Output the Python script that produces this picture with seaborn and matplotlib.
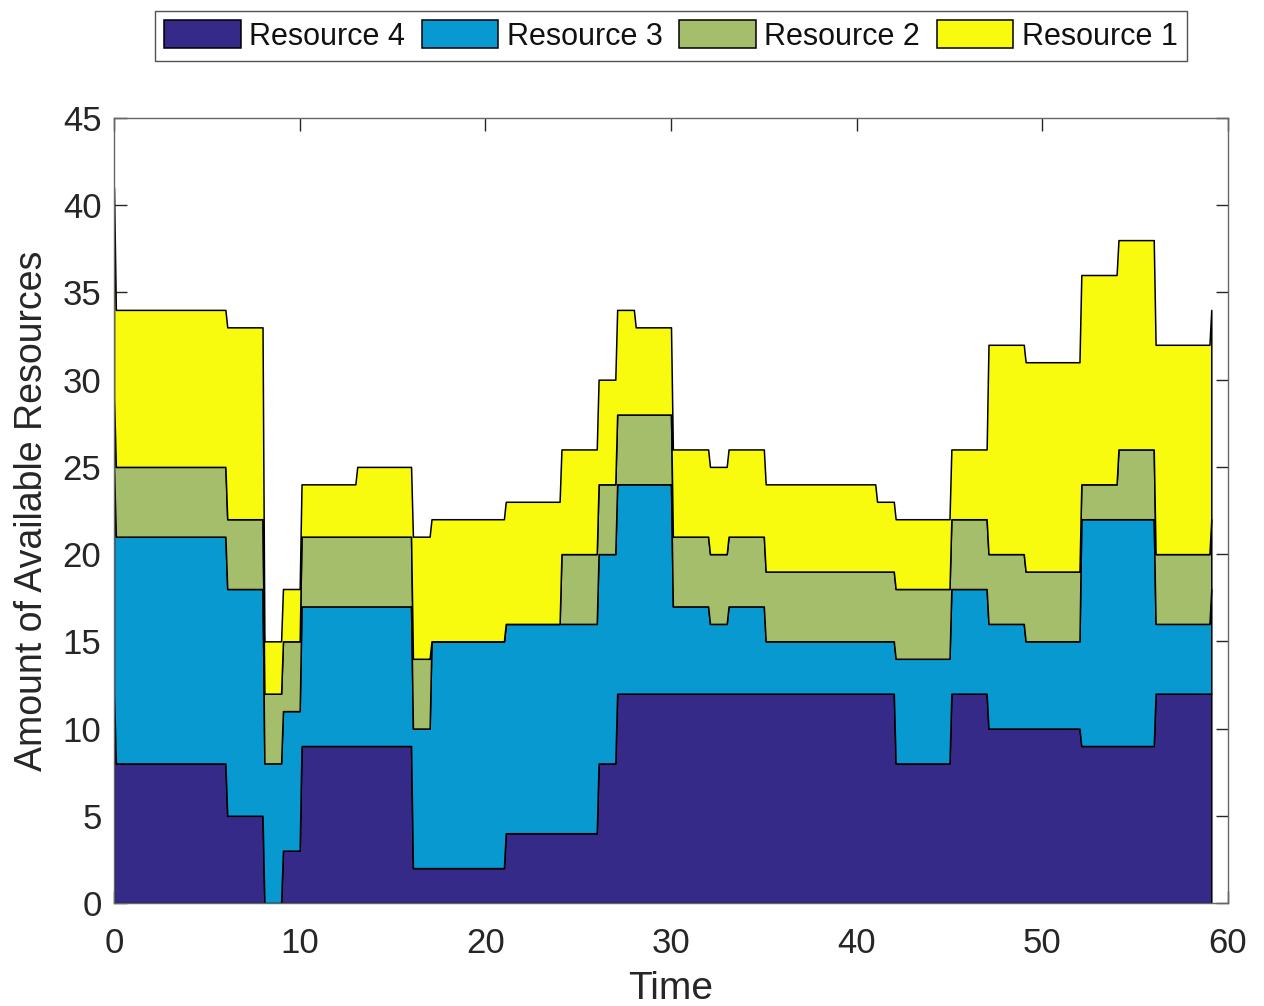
import numpy as np
import matplotlib
matplotlib.use("Agg")
import matplotlib.pyplot as plt
import seaborn as sns

# Times at which the available amounts change
change_times = [6, 8, 9, 10, 13, 16, 17, 21, 24, 26, 27, 28, 30, 32, 33, 35,
                41, 42, 45, 47, 49, 52, 54, 56]
end_time = 59

# Amount available per resource in each interval between change times
resource_4 = [8, 5, 0, 3, 9, 9, 2, 2, 4, 4, 8, 12, 12, 12, 12, 12, 12, 12,
              8, 12, 10, 10, 9, 9, 12]
resource_3 = [13, 13, 8, 8, 8, 8, 8, 13, 12, 12, 12, 12, 12, 5, 4, 5, 3, 3,
              6, 6, 6, 5, 13, 13, 4]
resource_2 = [4, 4, 4, 4, 4, 4, 4, 0, 0, 4, 4, 4, 4, 4, 4, 4, 4, 4,
              4, 4, 4, 4, 2, 4, 4]
resource_1 = [9, 11, 3, 3, 3, 4, 7, 7, 7, 6, 6, 6, 5, 5, 5, 5, 5, 4,
              4, 4, 12, 12, 12, 12, 12]

# Full capacities at the first and last sample
initial_amounts = [12, 13, 4, 12]   # R4, R3, R2, R1
final_amounts = [12, 6, 4, 12]

labels = ["Resource 4", "Resource 3", "Resource 2", "Resource 1"]
colors = ["#352a87", "#0799cf", "#a5be6b", "#f9fb0e"]

# Build the staircase samples (each change ramps over a short step)
ramp = 0.1
series = [resource_4, resource_3, resource_2, resource_1]
x = [0.0, ramp]
ys = [[initial_amounts[k], series[k][0]] for k in range(4)]
for i, t in enumerate(change_times):
    x += [t, t + ramp]
    for k in range(4):
        ys[k] += [series[k][i], series[k][i + 1]]
x += [end_time, end_time + ramp]
for k in range(4):
    ys[k] += [series[k][-1], final_amounts[k]]
x = np.array(x)
ys = np.array(ys, dtype=float)

sns.set_theme(style="white")
plt.rcParams["font.family"] = ["Liberation Sans", "DejaVu Sans"]

fig = plt.figure(figsize=(12.64, 10.06), dpi=100)
ax = fig.add_axes([114 / 1264, 1 - 903 / 1006, (1228 - 114) / 1264, (903 - 118) / 1006])

polys = ax.stackplot(x, ys, colors=colors, labels=labels,
                     edgecolor="black", linewidth=1.1)

ax.set_xlim(0, 60)
ax.set_ylim(0, 45)
ax.set_xticks(np.arange(0, 61, 10))
ax.set_yticks(np.arange(0, 46, 5))
ax.tick_params(direction="in", length=9, width=1, color="#262626",
               labelsize=25, labelcolor="#262626", top=True, right=True,
               bottom=True, left=True)
ax.tick_params(axis="x", pad=17)
ax.tick_params(axis="y", pad=9)
for s in ax.spines.values():
    s.set_visible(True)
    s.set_color("#666666")
    s.set_linewidth(1.0)

ax.set_xlabel("Time", fontsize=28, color="#262626", labelpad=8)
ax.set_ylabel("Amount of Available Resources", fontsize=27, color="#262626",
              labelpad=9)

leg = fig.legend(handles=polys, labels=labels, ncol=4,
                 loc="center", bbox_to_anchor=(671 / 1264, 1 - 36 / 1006),
                 fontsize=22, frameon=True, fancybox=False,
                 handlelength=2.5, handleheight=1.0, handletextpad=0.28,
                 columnspacing=0.55, borderpad=0.3, borderaxespad=0.2)
leg.get_frame().set_edgecolor("#262626")
leg.get_frame().set_linewidth(1.0)
for txt in leg.get_texts():
    txt.set_color("#111111")

fig.savefig("out.png", dpi=100, facecolor="white")
